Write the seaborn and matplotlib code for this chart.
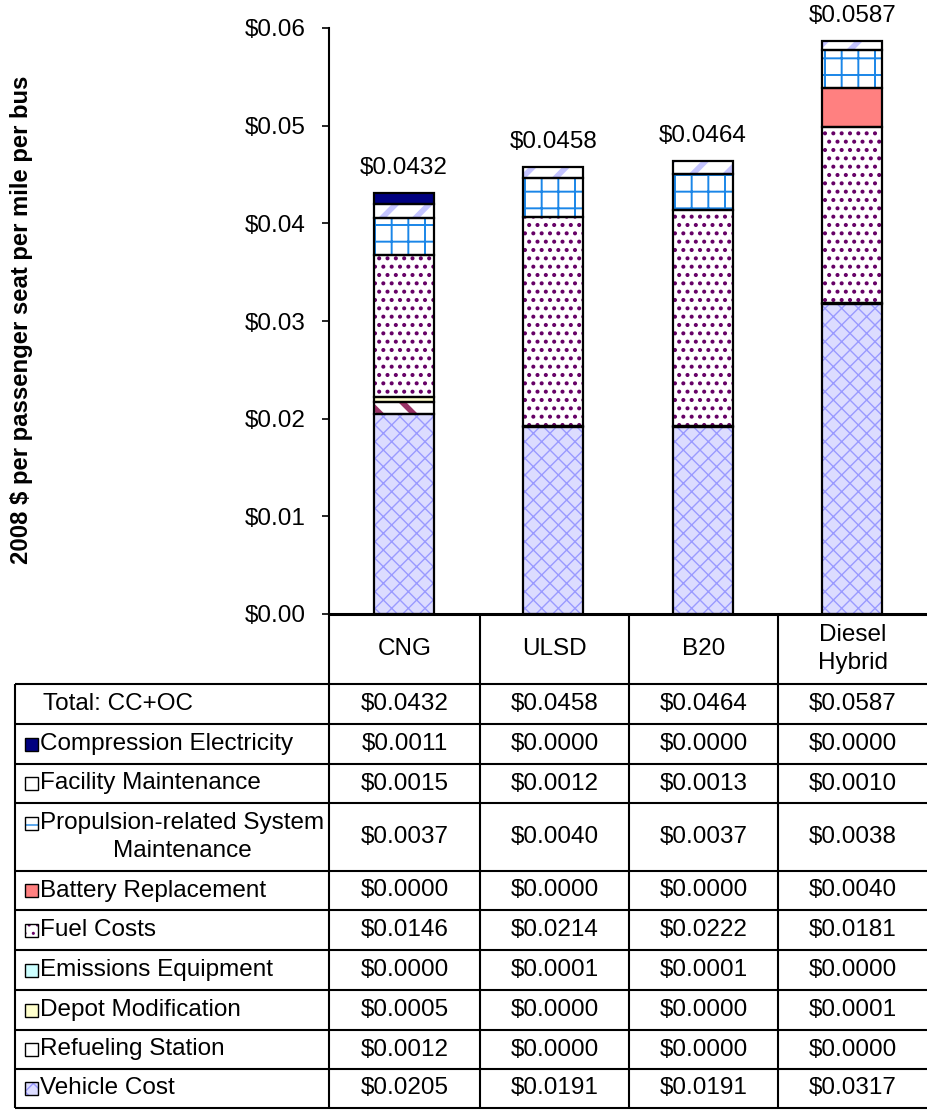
import matplotlib
matplotlib.use("Agg")
import matplotlib.pyplot as plt
from matplotlib.lines import Line2D
from matplotlib.patches import Rectangle
import numpy as np
import pandas as pd
import seaborn as sns

# ---- data -----------------------------------------------------------------
fuels = ["CNG", "ULSD", "B20", "Diesel\nHybrid"]
totals = [0.0432, 0.0458, 0.0464, 0.0587]

# cost components, bottom of the stack first
components = [
    "Vehicle Cost",
    "Refueling Station",
    "Depot Modification",
    "Emissions Equipment",
    "Fuel Costs",
    "Battery Replacement",
    "Propulsion-related System\nMaintenance",
    "Facility Maintenance",
    "Compression Electricity",
]
vehicle_cost = [0.0205, 0.0191, 0.0191, 0.0317]
refueling_station = [0.0012, 0.0000, 0.0000, 0.0000]
depot_modification = [0.0005, 0.0000, 0.0000, 0.0001]
emissions_equipment = [0.0000, 0.0001, 0.0001, 0.0000]
fuel_costs = [0.0146, 0.0214, 0.0222, 0.0181]
battery_replacement = [0.0000, 0.0000, 0.0000, 0.0040]
propulsion_maintenance = [0.0037, 0.0040, 0.0037, 0.0038]
facility_maintenance = [0.0015, 0.0012, 0.0013, 0.0010]
compression_electricity = [0.0011, 0.0000, 0.0000, 0.0000]

series = [
    vehicle_cost, refueling_station, depot_modification, emissions_equipment,
    fuel_costs, battery_replacement, propulsion_maintenance,
    facility_maintenance, compression_electricity,
]

# fill style of each component: (face, hatch, hatch colour, hatch width)
styles = [
    ("#dcdcff", "xx", "#9a9aff", 1.0),
    ("white", "\\", "#993366", 4.0),
    ("#ffffcc", "", None, 1.0),
    ("#ccffff", "", None, 1.0),
    ("white", "..", "#660066", 1.7),
    ("#ff8080", "", None, 1.0),
    ("white", "+", "#1a86e8", 1.4),
    ("white", "/", "#c4c4ff", 4.0),
    ("#000080", "", None, 1.0),
]

FS = 17.5

# ---- figure ----------------------------------------------------------------
W, H = 927, 1110
sns.set_theme(style="white")
plt.rcParams["font.family"] = ["Liberation Sans", "DejaVu Sans"]
plt.rcParams["hatch.linewidth"] = 1.0

fig = plt.figure(figsize=(W / 100, H / 100), dpi=100)


def fx(px):
    return px / W


def fy(py):
    return 1 - py / H


ax_left, ax_right, ax_top, ax_bottom = 329, 927, 28, 614
ax = fig.add_axes([fx(ax_left), fy(ax_bottom), fx(ax_right) - fx(ax_left),
                   fy(ax_top) - fy(ax_bottom)])

bottom = np.zeros(len(fuels))
segments = []
for vals, (face, hatch, hcol, hlw) in zip(series, styles):
    vals = np.asarray(vals, dtype=float)
    n0 = len(ax.patches)
    sns.barplot(x=fuels, y=vals, order=fuels, bottom=bottom, width=0.4,
                color=face, ax=ax, errorbar=None)
    for p in ax.patches[n0:]:
        p.set_facecolor(face)
        p.set_linewidth(0)
        if hatch:
            p.set_hatch(hatch)
            p.set_edgecolor(hcol)
            if hasattr(p, "set_hatch_linewidth"):
                p.set_hatch_linewidth(hlw)
        else:
            p.set_edgecolor(face)
        segments.append(p)
    bottom = bottom + vals

# black outline around every non-empty segment
for p in segments:
    if p.get_height() > 0:
        ax.add_patch(Rectangle(p.get_xy(), p.get_width(), p.get_height(),
                               facecolor="none", edgecolor="black",
                               linewidth=1.6, zorder=3))

# totals above each bar
for i, (top, tot) in enumerate(zip(bottom, totals)):
    ax.annotate(f"${tot:.4f}", (i, top), xytext=(0, 18),
                textcoords="offset points", ha="center", va="center",
                fontsize=FS, color="black", annotation_clip=False)

ax.set_xlim(-0.5, 3.5)
ax.set_ylim(0, 0.06)
ax.set_yticks(np.arange(0, 0.0601, 0.01))
ax.set_yticklabels([f"${v:.2f}" for v in np.arange(0, 0.0601, 0.01)])
ax.tick_params(axis="y", which="major", direction="out", length=5, width=1.2,
               pad=12, labelsize=FS, left=True, colors="black")
ax.set_xticks([])
ax.set_xlabel("")
ax.set_ylabel("")
for side in ["top", "right", "bottom"]:
    ax.spines[side].set_visible(False)
ax.spines["left"].set_color("black")
ax.spines["left"].set_linewidth(1.5)

fig.text(fx(22), fy(320), "2008 $ per passenger seat per mile per bus",
         rotation=90, ha="center", va="center", fontsize=17.2,
         fontweight="bold", color="black")

# ---- data table below the plot ---------------------------------------------
col_edges = [329, 480, 629, 778, 927]
col_centers = [(a + b) / 2 for a, b in zip(col_edges[:-1], col_edges[1:])]
row_edges = [684, 724, 764, 803, 871, 910, 950, 990, 1030, 1069, 1108]
table_left = 15


def hline(y, x0, x1, lw=1.5):
    fig.add_artist(Line2D([fx(x0), fx(x1)], [fy(y), fy(y)], color="black",
                          linewidth=lw, solid_capstyle="butt"))


def vline(x, y0, y1, lw=1.5):
    fig.add_artist(Line2D([fx(x), fx(x)], [fy(y0), fy(y1)], color="black",
                          linewidth=lw, solid_capstyle="butt"))


# header with the fuel names
hline(ax_bottom, ax_left, 927, lw=2.2)
for x in col_edges[:-1]:
    vline(x, ax_bottom, row_edges[-1])
vline(table_left, row_edges[0], row_edges[-1])
for y in row_edges:
    hline(y, table_left, 927)
for cx, name in zip(col_centers, fuels):
    fig.text(fx(cx), fy((ax_bottom + row_edges[0]) / 2), name, ha="center",
             va="center", fontsize=FS, color="black", linespacing=1.3)

# table rows: total first, then components from top of stack downwards
row_labels = ["Total: CC+OC"] + components[::-1]
row_values = [totals] + series[::-1]
row_styles = [None] + styles[::-1]

for r, (label, vals, sty) in enumerate(zip(row_labels, row_values, row_styles)):
    y0, y1 = row_edges[r], row_edges[r + 1]
    yc = (y0 + y1) / 2
    for cx, v in zip(col_centers, vals):
        fig.text(fx(cx), fy(yc), f"${v:.4f}", ha="center", va="center",
                 fontsize=FS, color="black")
    if sty is None:
        fig.text(fx(43), fy(yc), label, ha="left", va="center", fontsize=FS,
                 color="black")
        continue
    key_y = yc if "\n" not in label else y0 + 20
    face, hatch, hcol, hlw = sty
    key = Rectangle((fx(25), fy(key_y + 6.5)), fx(13), 13 / H,
                    transform=fig.transFigure, facecolor=face,
                    edgecolor=hcol if hatch else face, hatch=hatch or None,
                    linewidth=0)
    fig.add_artist(key)
    fig.add_artist(Rectangle((fx(25), fy(key_y + 6.5)), fx(13), 13 / H,
                             transform=fig.transFigure, facecolor="none",
                             edgecolor="black", linewidth=1.0))
    fig.text(fx(40), fy(yc), label, ha="left", va="center", fontsize=FS,
             color="black", multialignment="center", linespacing=1.3)

fig.savefig("out.png", dpi=100)
